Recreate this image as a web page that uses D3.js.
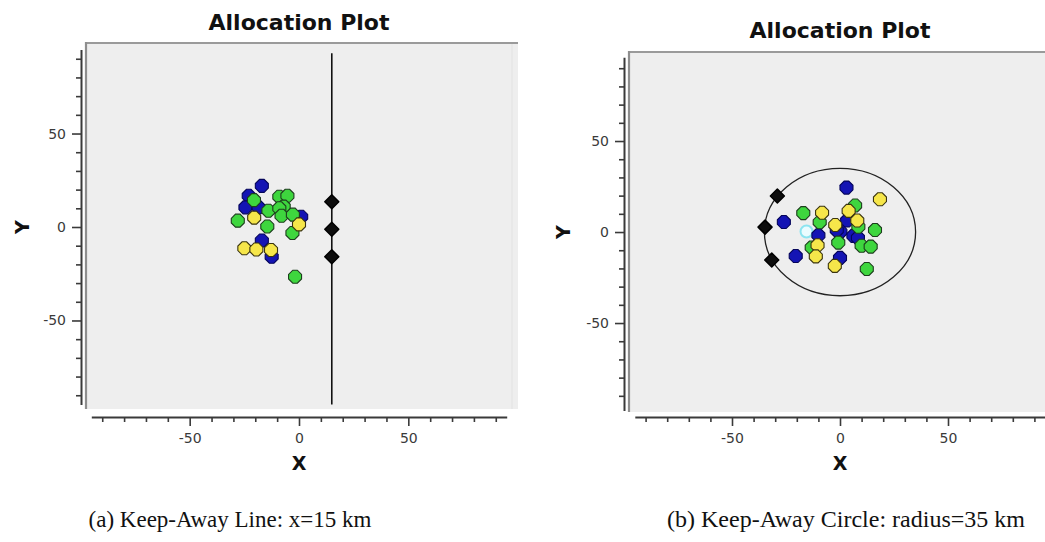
<!DOCTYPE html>
<html><head><meta charset="utf-8">
<script src="https://cdn.jsdelivr.net/npm/d3@7"></script>
<style>body{margin:0;background:#fff}svg{display:block}</style>
</head><body>
<svg id="c" width="1045" height="542"></svg>
<script>
// ---- data ----
const title = "Allocation Plot";
const captions = ["(a) Keep-Away Line: x=15 km", "(b) Keep-Away Circle: radius=35 km"];
const majorTicks = [-50, 0, 50];
const minorTicks = [-90,-80,-70,-60,-40,-30,-20,-10,10,20,30,40,60,70,80,90];

// Panel (a)
const aBlue   = [[-17,22],[-23,16.7],[-24.5,10.5],[-18.5,10.5],[-17,-7.2],[-12.5,-15.9],[1,5.5]];
const aGreen  = [[-28,3.4],[-20.6,14.4],[-14,8.7],[-14.5,0.3],[-9,16.2],[-5.3,16.7],[-7,10.9],[-9,10],[-8,6],[-2.8,6.6],[-3,-3.2],[-1.8,-26.6]];
const aYellow = [[-20.5,5],[0,1.4],[-25,-11.4],[-19.5,-12],[-12.8,-12.3]];
const aBlack  = [[15,13.5],[15,-1.2],[15,-15.9]];
const aLineX = 15, aLineY = [-95, 93];

// Panel (b)
const bBlue   = [[3,24.4],[-26,5.5],[-10,-1.8],[-20.5,-13.2],[0,-14.2],[3.3,6.3],[0.2,0.2],[-1.5,1],[6.2,-2.1],[8.3,-3.2]];
const bGreen  = [[-17,10.4],[-9.4,5.4],[7,14.6],[8.5,2.9],[16.2,1.1],[-0.8,-5.8],[-13.1,-8.5],[10,-7.5],[14.2,-8],[12.4,-20.3]];
const bYellow = [[18.5,18],[-8.3,10.6],[4,11.6],[-2.2,3.9],[8,6.3],[-10.4,-7.3],[-11.2,-13.4],[-2.4,-18.6]];
const bBlack  = [[-29,19.8],[-34.7,2.7],[-31.6,-15.4]];
const bCenter = [[-15.5,0.3]];
const bCircleR = 35;

const svg = d3.select("#c");
const COL = {
  blue:{fill:"#1414b4",stroke:"#05055a"},
  green:{fill:"#3ed63e",stroke:"#1d3d1d"},
  yellow:{fill:"#f6e64a",stroke:"#3a3410"},
  black:{fill:"#0d0d0d",stroke:"#000"}
};
function marker(r){const a=r*0.35;return `M${-a},${-r}L${a},${-r}L${r},${-a}L${r},${a}L${a},${r}L${-a},${r}L${-r},${a}L${-r},${-a}Z`;}
function marker2(r){return `M0,${-r}L${r},0L0,${r}L${-r},0Z`;}
const fmt = d => String(d);

function panel(cfg){
  const g = svg.append("g");
  const x = d3.scaleLinear().domain([-95,95]).range(cfg.xr);
  const y = d3.scaleLinear().domain(cfg.yd).range(cfg.yr);
  g.append("rect").attr("x",cfg.px0).attr("y",cfg.py0).attr("width",cfg.px1-cfg.px0).attr("height",cfg.py1-cfg.py0).attr("fill","#eeeeee");
  g.append("line").attr("x1",cfg.px0).attr("x2",cfg.px1).attr("y1",cfg.py0+1).attr("y2",cfg.py0+1).attr("stroke","#9a9a9a").attr("stroke-width",2.2);
  g.append("line").attr("x1",cfg.px0+1).attr("x2",cfg.px0+1).attr("y1",cfg.py0).attr("y2",cfg.py1).attr("stroke","#8e8e8e").attr("stroke-width",2.2);
  if(cfg.rightEdge) g.append("line").attr("x1",cfg.px1-6).attr("x2",cfg.px1-6).attr("y1",cfg.py0+2).attr("y2",cfg.py1).attr("stroke","#e2e2e2").attr("stroke-width",1);
  g.append("text").attr("x",cfg.tx).attr("y",cfg.ty).attr("text-anchor","middle")
    .attr("font-family","DejaVu Sans").attr("font-weight","bold").attr("font-size",22).attr("fill","#111").text(title);
  const ya = g.append("g").attr("transform",`translate(${cfg.yax},0)`);
  ya.call(d3.axisLeft(y).tickValues(majorTicks).tickSize(9).tickSizeOuter(0).tickPadding(6).tickFormat(fmt));
  ya.append("g").call(d3.axisLeft(y).tickValues(minorTicks).tickSize(5).tickFormat("")).select(".domain").remove();
  const xa = g.append("g").attr("transform",`translate(0,${cfg.xay})`);
  xa.call(d3.axisBottom(x).tickValues(majorTicks).tickSize(9).tickSizeOuter(0).tickPadding(7).tickFormat(fmt));
  xa.append("g").call(d3.axisBottom(x).tickValues(minorTicks).tickSize(5).tickFormat("")).select(".domain").remove();
  [ya,xa].forEach(a=>{
    a.selectAll(".domain").attr("stroke","#3a3a3a").attr("stroke-width",2);
    a.selectAll(".tick line").attr("stroke","#3a3a3a").attr("stroke-width",1.6);
    a.selectAll("text").attr("font-family","DejaVu Sans").attr("font-size",14).attr("fill","#3a3a3a");
  });
  g.append("text").attr("x",x(0)).attr("y",cfg.xly).attr("text-anchor","middle").attr("font-family","DejaVu Sans").attr("font-weight","bold").attr("font-size",19).attr("fill","#111").text("X");
  g.append("text").attr("transform",`translate(${cfg.ylx},${y(0)}) rotate(-90)`).attr("text-anchor","middle").attr("dy","0.35em").attr("font-family","DejaVu Sans").attr("font-weight","bold").attr("font-size",19).attr("fill","#111").text("Y");
  g.append("text").attr("x",cfg.cx).attr("y",527).attr("text-anchor","middle").attr("font-family","Liberation Serif").attr("font-size",cfg.cfs).attr("fill","#111").text(cfg.caption);
  return {g,x,y};
}

function drawPts(p, pts, col){
  p.g.append("g").selectAll("path").data(pts).join("path")
    .attr("d",marker(6.5)).attr("transform",d=>`translate(${p.x(d[0])},${p.y(d[1])})`)
    .attr("fill",COL[col].fill).attr("stroke",COL[col].stroke).attr("stroke-width",1.1);
}

const A = panel({xr:[91.3,506.7], yd:[-95,95], yr:[404.6,49.4], px0:85, px1:518, py0:42, py1:409, rightEdge:true,
  tx:299, ty:30, yax:81, xay:417, xly:470, ylx:22, cx:230, cfs:23, caption:captions[0]});
A.g.append("line").attr("x1",A.x(aLineX)).attr("x2",A.x(aLineX)).attr("y1",A.y(aLineY[1])).attr("y2",A.y(aLineY[0])).attr("stroke","#111").attr("stroke-width",1.6);
drawPts(A,aBlue,"blue"); drawPts(A,aGreen,"green"); drawPts(A,aYellow,"yellow");
A.g.append("g").selectAll("path").data(aBlack).join("path").attr("d",marker2(7)).attr("transform",d=>`translate(${A.x(d[0])},${A.y(d[1])})`).attr("fill","#0d0d0d").attr("stroke","#000").attr("stroke-linejoin","round").attr("stroke-width",1.5);

const B = panel({xr:[634.8,1045.2], yd:[-98,96], yr:[410.4,57.3], px0:628, px1:1050, py0:51, py1:412, rightEdge:false,
  tx:840, ty:38, yax:624, xay:417, xly:470, ylx:563, cx:846, cfs:24, caption:captions[1]});
B.g.append("ellipse").attr("cx",B.x(0)).attr("cy",B.y(0)).attr("rx",B.x(bCircleR)-B.x(0)).attr("ry",B.y(0)-B.y(bCircleR)).attr("fill","none").attr("stroke","#222").attr("stroke-width",1.3);
B.g.append("g").selectAll("circle").data(bCenter).join("circle").attr("cx",d=>B.x(d[0])).attr("cy",d=>B.y(d[1])).attr("r",6).attr("fill","#eafcff").attr("stroke","#8ce4f0").attr("stroke-width",2);
drawPts(B,bBlue,"blue"); drawPts(B,bGreen,"green"); drawPts(B,bYellow,"yellow");
B.g.append("g").selectAll("path").data(bBlack).join("path").attr("d",marker2(7)).attr("transform",d=>`translate(${B.x(d[0])},${B.y(d[1])})`).attr("fill","#0d0d0d").attr("stroke","#000").attr("stroke-linejoin","round").attr("stroke-width",1.5);
</script>
</body></html>
